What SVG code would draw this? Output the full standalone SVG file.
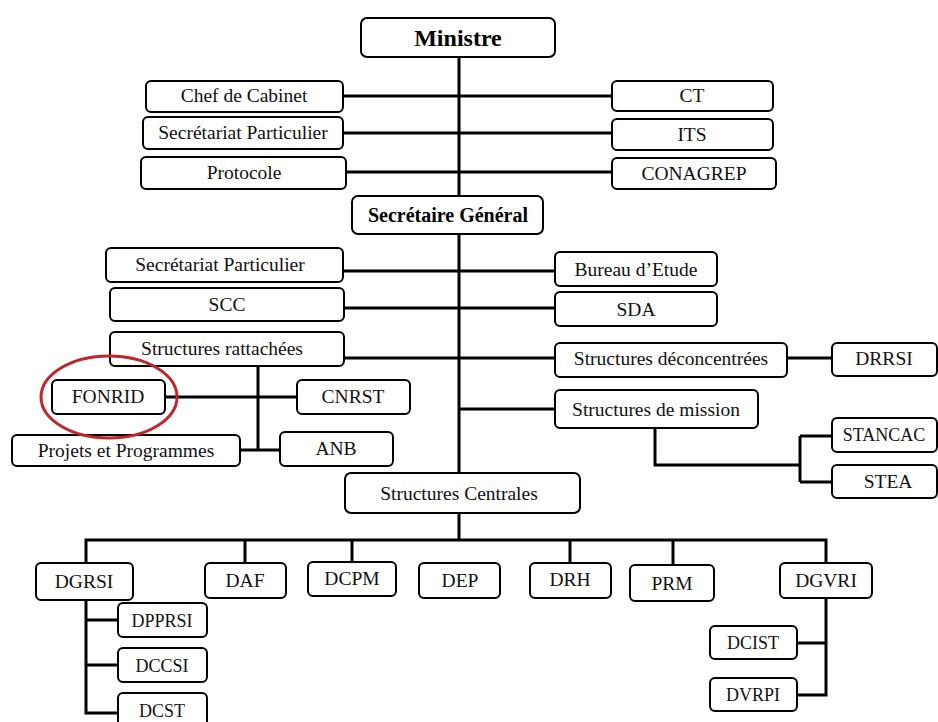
<svg xmlns="http://www.w3.org/2000/svg" width="938" height="722" viewBox="0 0 938 722">
<defs>
<style>
.b{fill:#fff;stroke:#000;stroke-width:2}
.t{font-family:"Liberation Serif","Times New Roman",serif;font-size:19.5px;text-anchor:middle;fill:#111}
.s{font-size:18px}
.h{font-family:"Liberation Serif","Times New Roman",serif;font-size:24px;font-weight:bold;text-anchor:middle;fill:#000}
.c{fill:none;stroke:#000;stroke-width:3}
</style>
</defs>
<rect width="938" height="722" fill="#fff"/>
<g id="connectors">
<path class="c" d="M459 57V475M459 512V540"/>
<path class="c" d="M343 96H612M343 133H612M346 172H612"/>
<path class="c" d="M343 271H555M344 308H555M344 358H555M787 358H832"/>
<path class="c" d="M258 366V450M165 397H297M240 450H280"/>
<path class="c" d="M459 409H555"/>
<path class="c" d="M655 428V465H800M800 436V482M800 436H832M800 482H832"/>
<path class="c" d="M86 563V540H826V563M245 540V563M352 540V562M570 540V563M673 540V565"/>
<path class="c" d="M86 600V713H118M86 620H118M86 665H118"/>
<path class="c" d="M826 598V695H797M826 643H797"/>
</g>
<g id="ministre"><rect class="b" x="361" y="18" width="194" height="39" rx="6"/><text class="h" x="458" y="46">Ministre</text></g>
<g id="chef"><rect class="b" x="146" y="81" width="197" height="31" rx="5"/><text class="t" x="244" y="102">Chef de Cabinet</text></g>
<g id="secpart1"><rect class="b" x="143" y="117" width="200" height="32" rx="5"/><text class="t" x="243" y="139">Secrétariat Particulier</text></g>
<g id="protocole"><rect class="b" x="141" y="157" width="205" height="32" rx="5"/><text class="t" x="244" y="179">Protocole</text></g>
<g id="ct"><rect class="b" x="612" y="81" width="161" height="30" rx="5"/><text class="t" x="692" y="102">CT</text></g>
<g id="its"><rect class="b" x="612" y="119" width="161" height="31" rx="5"/><text class="t" x="692" y="141">ITS</text></g>
<g id="conagrep"><rect class="b" x="612" y="158" width="164" height="31" rx="5"/><text class="t" x="694" y="180">CONAGREP</text></g>
<g id="sg"><rect class="b" x="352" y="196" width="191" height="38" rx="6"/><text class="h" x="448" y="222" style="font-size:20px">Secrétaire Général</text></g>
<g id="secpart2"><rect class="b" x="106" y="248" width="237" height="34" rx="5"/><text class="t" x="220" y="271">Secrétariat Particulier</text></g>
<g id="scc"><rect class="b" x="110" y="288" width="234" height="33" rx="5"/><text class="t" x="227" y="311">SCC</text></g>
<g id="rattachees"><rect class="b" x="110" y="332" width="234" height="34" rx="5"/><text class="t" x="222" y="355">Structures rattachées</text></g>
<g id="bureau"><rect class="b" x="555" y="252" width="162" height="34" rx="5"/><text class="t" x="636" y="276">Bureau d’Etude</text></g>
<g id="sda"><rect class="b" x="555" y="292" width="162" height="34" rx="5"/><text class="t" x="636" y="316">SDA</text></g>
<g id="deconc"><rect class="b" x="555" y="343" width="232" height="34" rx="5"/><text class="t" x="671" y="365">Structures déconcentrées</text></g>
<g id="drrsi"><rect class="b" x="832" y="343" width="105" height="33" rx="5"/><text class="t" x="884" y="365">DRRSI</text></g>
<g id="fonrid"><rect class="b" x="52" y="380" width="113" height="34" rx="5"/><text class="t" x="108" y="403">FONRID</text></g>
<g id="cnrst"><rect class="b" x="297" y="380" width="113" height="34" rx="5"/><text class="t" x="353" y="403">CNRST</text></g>
<g id="projets"><rect class="b" x="12" y="435" width="228" height="31" rx="5"/><text class="t" x="126" y="457">Projets et Programmes</text></g>
<g id="anb"><rect class="b" x="280" y="432" width="113" height="34" rx="5"/><text class="t" x="336" y="455">ANB</text></g>
<g id="mission"><rect class="b" x="555" y="390" width="203" height="38" rx="5"/><text class="t" x="656" y="416">Structures de mission</text></g>
<g id="stancac"><rect class="b" x="832" y="418" width="105" height="34" rx="5"/><text class="t s" x="884" y="441">STANCAC</text></g>
<g id="stea"><rect class="b" x="832" y="465" width="105" height="33" rx="5"/><text class="t" x="888" y="488">STEA</text></g>
<g id="centrales"><rect class="b" x="345" y="473" width="235" height="40" rx="6"/><text class="t" x="459" y="500">Structures  Centrales</text></g>
<g id="dgrsi"><rect class="b" x="36" y="563" width="97" height="37" rx="5"/><text class="t" x="84" y="588">DGRSI</text></g>
<g id="daf"><rect class="b" x="205" y="563" width="81" height="35" rx="5"/><text class="t" x="245" y="587">DAF</text></g>
<g id="dcpm"><rect class="b" x="308" y="562" width="88" height="34" rx="5"/><text class="t" x="352" y="585">DCPM</text></g>
<g id="dep"><rect class="b" x="419" y="563" width="81" height="35" rx="5"/><text class="t" x="460" y="587">DEP</text></g>
<g id="drh"><rect class="b" x="530" y="563" width="81" height="35" rx="5"/><text class="t" x="570" y="586">DRH</text></g>
<g id="prm"><rect class="b" x="630" y="565" width="84" height="36" rx="5"/><text class="t" x="672" y="590">PRM</text></g>
<g id="dgvri"><rect class="b" x="780" y="563" width="92" height="35" rx="5"/><text class="t" x="826" y="587">DGVRI</text></g>
<g id="dpprsi"><rect class="b" x="118" y="603" width="89" height="34" rx="5"/><text class="t s" x="162" y="627">DPPRSI</text></g>
<g id="dccsi"><rect class="b" x="118" y="648" width="89" height="34" rx="5"/><text class="t s" x="162" y="672">DCCSI</text></g>
<g id="dcst"><rect class="b" x="118" y="693" width="89" height="34" rx="5"/><text class="t s" x="162" y="717">DCST</text></g>
<g id="dcist"><rect class="b" x="710" y="626" width="87" height="33" rx="5"/><text class="t s" x="753" y="649">DCIST</text></g>
<g id="dvrpi"><rect class="b" x="710" y="678" width="87" height="33" rx="5"/><text class="t s" x="753" y="701">DVRPI</text></g>
<ellipse id="highlight" cx="109" cy="397" rx="68" ry="41" fill="none" stroke="#c0262b" stroke-width="3"/>
</svg>
